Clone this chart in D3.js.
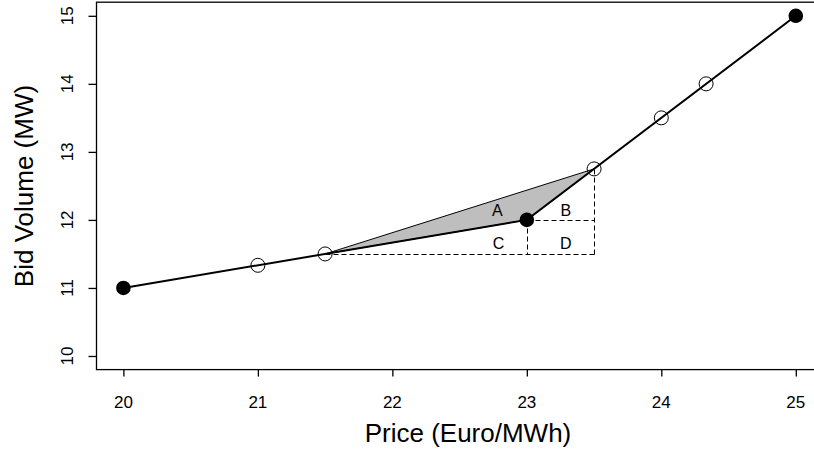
<!DOCTYPE html>
<html>
<head>
<meta charset="utf-8">
<script src="https://cdn.jsdelivr.net/npm/d3@7"></script>
<style>
  html, body { margin: 0; padding: 0; background: #fff; }
  svg { display: block; font-family: "Liberation Sans", Arial, sans-serif; }
</style>
</head>
<body>
<svg id="chart" width="814" height="454"></svg>
<script>
// ---- data ----
const curvePrice = [20, 23, 25];
const curveVolume = [11, 12, 15];
const filledPrice = [20, 23, 25];
const filledVolume = [11, 12, 15];
const openPrice = [21, 21.5, 23.5, 24, 24.333];
const openVolume = [11.333, 11.5, 12.75, 13.5, 14];
const shadePrice = [21.5, 23.5, 23];
const shadeVolume = [11.5, 12.75, 12];
// dashed guide segments: [x1, y1, x2, y2]
const dashX1 = [21.5, 23.5, 23, 23];
const dashY1 = [11.5, 11.5, 12, 12];
const dashX2 = [23.5, 23.5, 23.5, 23];
const dashY2 = [11.5, 12.75, 12, 11.5];
const areaLabels = ["A", "B", "C", "D"];
const labelPrice = [22.78, 23.29, 22.79, 23.29];
const labelVolume = [12.14, 12.14, 11.66, 11.66];
const xTicks = [20, 21, 22, 23, 24, 25];
const yTicks = [10, 11, 12, 13, 14, 15];
const xTitle = "Price (Euro/MWh)";
const yTitle = "Bid Volume (MW)";

const svg = d3.select("#chart");
const x = d3.scaleLinear().domain([19.8, 25.2]).range([96.5, 822.7]);
const y = d3.scaleLinear().domain([9.8, 15.2]).range([369.6, 2.2]);

// shaded triangle
svg.append("path")
  .attr("d", d3.line().x(d => x(d[0])).y(d => y(d[1])).curve(d3.curveLinearClosed)(shadePrice.map((p, i) => [p, shadeVolume[i]])))
  .attr("fill", "#bebebe").attr("stroke", "#000").attr("stroke-width", 1);

// dashed guides
svg.append("g").selectAll("line").data(dashX1).join("line")
  .attr("x1", (d, i) => Math.round(x(dashX1[i])) + 0.5).attr("y1", (d, i) => Math.round(y(dashY1[i])) + 0.5)
  .attr("x2", (d, i) => Math.round(x(dashX2[i])) + 0.5).attr("y2", (d, i) => Math.round(y(dashY2[i])) + 0.5)
  .attr("stroke", "#000").attr("stroke-width", 1).attr("stroke-dasharray", "5,3");

// main curve
svg.append("path")
  .attr("d", d3.line().x(d => x(d[0])).y(d => y(d[1]))(curvePrice.map((p, i) => [p, curveVolume[i]])))
  .attr("fill", "none").attr("stroke", "#000").attr("stroke-width", 2);

// open points
svg.append("g").selectAll("circle").data(openPrice).join("circle")
  .attr("cx", (d) => x(d)).attr("cy", (d, i) => y(openVolume[i])).attr("r", 7)
  .attr("fill", "none").attr("stroke", "#000").attr("stroke-width", 1);

// filled points
svg.append("g").selectAll("circle").data(filledPrice).join("circle")
  .attr("cx", (d) => x(d)).attr("cy", (d, i) => y(filledVolume[i])).attr("r", 7.3)
  .attr("fill", "#000");

// area labels
svg.append("g").selectAll("text").data(areaLabels).join("text")
  .attr("x", (d, i) => x(labelPrice[i])).attr("y", (d, i) => y(labelVolume[i]))
  .attr("dy", "0.36em").attr("text-anchor", "middle")
  .attr("font-size", 16).attr("fill", "#000").text(d => d);

// plot box
svg.append("rect").attr("x", 96.5).attr("y", 2.2).attr("width", 822.7 - 96.5).attr("height", 369.6 - 2.2)
  .attr("fill", "none").attr("stroke", "#000").attr("stroke-width", 1.3);

// x axis
const xAxis = svg.append("g").attr("transform", "translate(0,369.6)")
  .call(d3.axisBottom(x).tickValues(xTicks).tickSize(7).tickFormat(d3.format("d")));
xAxis.select(".domain").remove();
xAxis.selectAll(".tick line").attr("stroke", "#000").attr("stroke-width", 1.3);
xAxis.selectAll(".tick text").remove();
svg.append("g").selectAll("text").data(xTicks).join("text")
  .attr("x", d => x(d)).attr("y", 408).attr("text-anchor", "middle")
  .attr("font-size", 17).attr("fill", "#000").text(d => d);

// y axis
const yAxis = svg.append("g").attr("transform", "translate(96.5,0)")
  .call(d3.axisLeft(y).tickValues(yTicks).tickSize(8).tickFormat(d3.format("d")));
yAxis.select(".domain").remove();
yAxis.selectAll(".tick line").attr("stroke", "#000").attr("stroke-width", 1.3);
yAxis.selectAll(".tick text").remove();
svg.append("g").selectAll("text").data(yTicks).join("text")
  .attr("transform", d => `translate(73,${y(d)}) rotate(-90)`)
  .attr("text-anchor", "middle")
  .attr("font-size", 17).attr("fill", "#000").text(d => d);

// titles
svg.append("text").attr("x", 468).attr("y", 442).attr("text-anchor", "middle")
  .attr("font-size", 26).attr("fill", "#000").text(xTitle);
svg.append("text").attr("transform", `translate(33,186) rotate(-90)`).attr("text-anchor", "middle")
  .attr("font-size", 26).attr("fill", "#000").text(yTitle);
</script>
</body>
</html>
